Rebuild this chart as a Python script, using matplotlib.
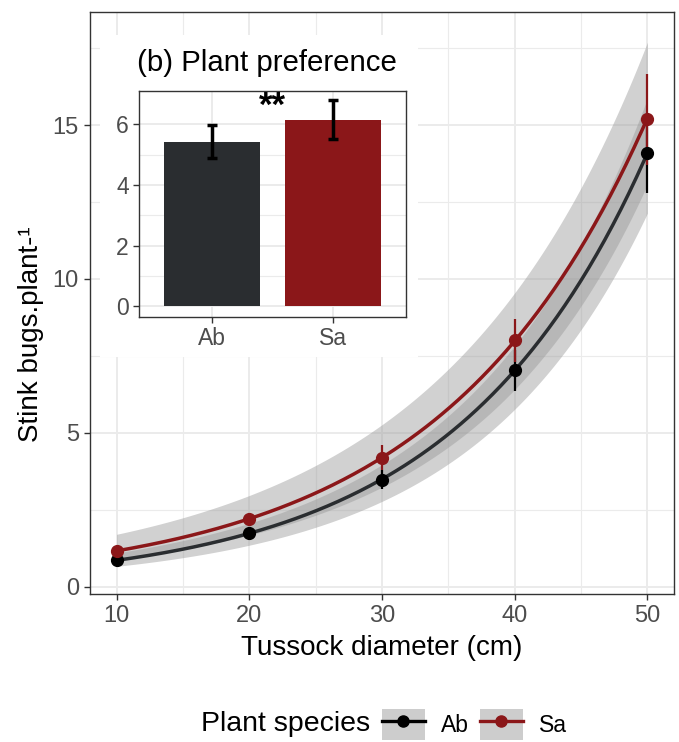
import numpy as np
import matplotlib
matplotlib.use("Agg")
import matplotlib.pyplot as plt
from matplotlib.lines import Line2D
from matplotlib.patches import Patch

plt.rcParams['font.family'] = ['Liberation Sans', 'DejaVu Sans']

# main panel: stink bugs per plant vs tussock diameter
diam = [10, 20, 30, 40, 50]
ab_mean = [0.86, 1.75, 3.48, 7.03, 14.10]
ab_lo = [0.78, 1.66, 3.18, 6.36, 12.80]
ab_hi = [0.94, 1.84, 3.80, 7.70, 15.35]
sa_mean = [1.17, 2.21, 4.19, 8.02, 15.20]
sa_lo = [1.08, 2.10, 3.80, 7.30, 13.70]
sa_hi = [1.26, 2.32, 4.61, 8.70, 16.66]

# confidence bands of the fitted curves
ab_band_lo = [0.65, 1.46, 2.60, 5.84, 12.20]
ab_band_hi = [1.10, 2.08, 3.96, 7.80, 15.90]
sa_band_lo = [0.90, 1.68, 3.21, 6.50, 13.00]
sa_band_hi = [1.69, 3.05, 5.16, 9.55, 17.75]

# inset: plant preference
species = ['Ab', 'Sa']
pref_mean = [5.42, 6.15]
pref_lo = [4.90, 5.51]
pref_hi = [5.99, 6.79]

AB_COL = '#2a2d30'
SA_COL = '#8b1719'
GRID = '#ebebeb'
TXT = '#4d4d4d'

def smooth(x, y, xs):
    # log-scale fit, like a glm with log link
    c = np.polyfit(x, np.log(y), 2)
    return np.exp(np.polyval(c, xs))

fig = plt.figure(figsize=(6.79, 7.42), dpi=100)
ax = fig.add_axes([0.1325, 0.1995, 0.8601, 0.7843])

xs = np.linspace(10, 50, 200)
ax.fill_between(xs, smooth(diam, sa_band_lo, xs), smooth(diam, sa_band_hi, xs),
                color='#999999', alpha=0.45, lw=0, zorder=2)
ax.fill_between(xs, smooth(diam, ab_band_lo, xs), smooth(diam, ab_band_hi, xs),
                color='#999999', alpha=0.45, lw=0, zorder=2)
ax.plot(xs, smooth(diam, ab_mean, xs), color=AB_COL, lw=2.5, zorder=3)
ax.plot(xs, smooth(diam, sa_mean, xs), color=SA_COL, lw=2.5, zorder=3)

for m, lo, hi, col in [(ab_mean, ab_lo, ab_hi, 'black'), (sa_mean, sa_lo, sa_hi, SA_COL)]:
    ax.vlines(diam, lo, hi, color=col, lw=1.6, zorder=4)
    ax.plot(diam, m, 'o', color=col, ms=8.5, zorder=5)

ax.set_xlim(8, 52)
ax.set_ylim(-0.23, 18.67)
ax.set_xticks([10, 20, 30, 40, 50])
ax.set_xticks([15, 25, 35, 45], minor=True)
ax.set_yticks([0, 5, 10, 15])
ax.set_yticks([2.5, 7.5, 12.5, 17.5], minor=True)
ax.grid(which='major', color=GRID, lw=1.4, zorder=0)
ax.grid(which='minor', color=GRID, lw=0.8, zorder=0)
ax.set_axisbelow(True)
ax.tick_params(which='major', length=4, width=1, color='#333333', labelsize=17,
               labelcolor=TXT, pad=4)
ax.tick_params(which='minor', length=0)
for s in ax.spines.values():
    s.set_color('#333333')
    s.set_linewidth(1)
ax.set_xlabel('Tussock diameter (cm)', fontsize=20, labelpad=6)
ax.set_ylabel('Stink bugs.plant-¹', fontsize=20)
ax.yaxis.set_label_coords(-0.078, 0.447)

# white backing of the inset plot
bg = fig.add_axes([0.1473, 0.5189, 0.4683, 0.434])
bg.set_facecolor('white')
bg.set_xticks([])
bg.set_yticks([])
for s in bg.spines.values():
    s.set_visible(False)

ins = fig.add_axes([0.2052, 0.5732, 0.3923, 0.3046])
pos = np.arange(len(species)) + 1
ins.bar(pos, pref_mean, width=0.8, color=[AB_COL, SA_COL], zorder=2)
err = [np.array(pref_mean) - np.array(pref_lo), np.array(pref_hi) - np.array(pref_mean)]
ins.errorbar(pos, pref_mean, yerr=err, fmt='none', ecolor='black', elinewidth=2.5,
             capsize=3.5, capthick=2.5, zorder=3)
ins.text(1.5, 6.6, '**', ha='center', va='center', fontsize=25, fontweight='bold')
ins.set_xlim(0.4, 2.6)
ins.set_ylim(-0.34, 7.11)
ins.set_xticks(pos)
ins.set_xticklabels(species)
ins.set_yticks([0, 2, 4, 6])
ins.set_yticks([1, 3, 5], minor=True)
ins.grid(which='major', color=GRID, lw=1.4, zorder=0)
ins.grid(which='minor', axis='y', color=GRID, lw=0.8, zorder=0)
ins.set_axisbelow(True)
ins.tick_params(which='major', length=4, width=1, color='#333333', labelsize=16.5,
                labelcolor=TXT)
ins.tick_params(which='minor', length=0)
for s in ins.spines.values():
    s.set_color('#333333')
    s.set_linewidth(1)
ins.set_title('(b) Plant preference', fontsize=21.2, pad=14, loc='left', x=-0.008)

# legend at the bottom
fig.text(0.42, 0.024, 'Plant species', fontsize=20.5, ha='center', va='center')
key = '#cdcdcd'
handles = [(Patch(facecolor=key, edgecolor='none'),
            Line2D([], [], color='black', lw=2.4, marker='o', ms=8)),
           (Patch(facecolor=key, edgecolor='none'),
            Line2D([], [], color=SA_COL, lw=2.4, marker='o', ms=8))]
fig.legend(handles, species, loc='center left', bbox_to_anchor=(0.563, 0.023),
           ncol=2, frameon=False, fontsize=16.5, handlelength=1.85, handleheight=1.7,
           handletextpad=0.7, columnspacing=0.5, borderpad=0, borderaxespad=0)

fig.savefig('out.png', dpi=100, facecolor='white')
